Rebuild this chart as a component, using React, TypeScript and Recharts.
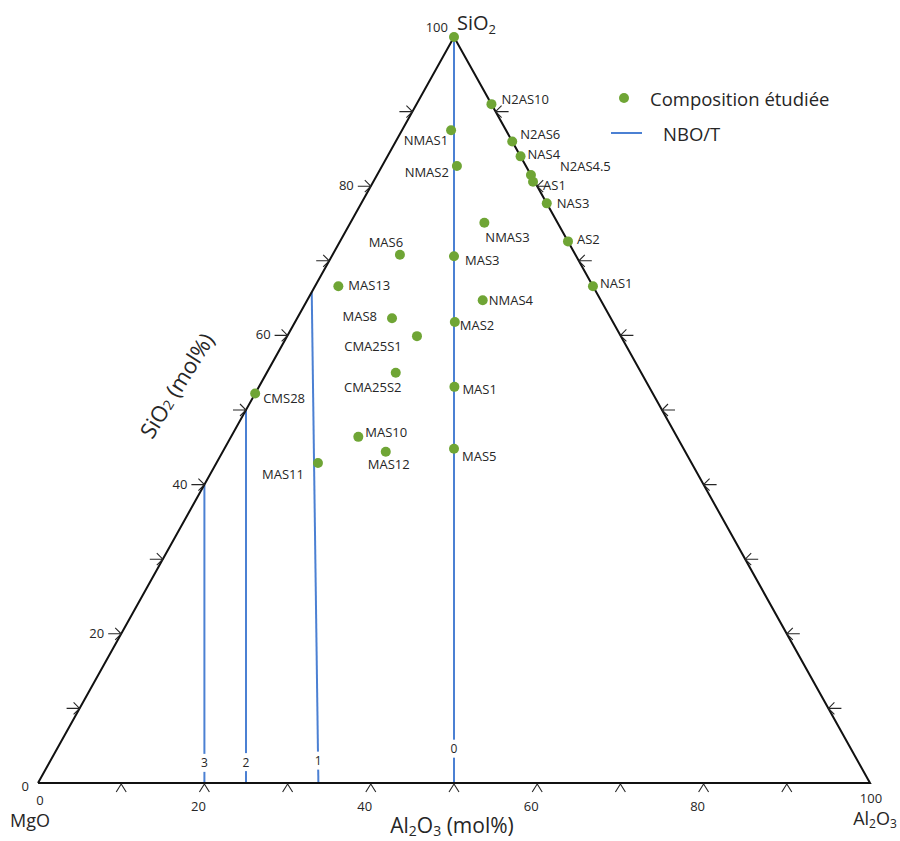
import React from "react";
import { ScatterChart, Scatter, XAxis, YAxis, Legend } from "recharts";

const GREEN = "#6fa535";
const BLUE = "#4b80d3";
const INK = "#262626";
const FONT = "'Open Sans', 'Noto Sans', sans-serif";

// compositions in mol% (MgO + other oxides = remainder)
const sampleNames = ["", "N2AS10", "NMAS1", "N2AS6", "NAS4", "NMAS2", "N2AS4.5", "AS1", "NAS3", "NMAS3", "AS2", "MAS6", "MAS3", "NAS1", "MAS13", "NMAS4", "MAS8", "MAS2", "CMA25S1", "CMA25S2", "MAS1", "CMS28", "MAS10", "MAS12", "MAS5", "MAS11"];
const sampleSiO2 = [100, 91, 87.5, 86, 84, 82.7, 81.5, 80.6, 77.7, 75.1, 72.6, 70.8, 70.6, 66.6, 66.6, 64.7, 62.3, 61.8, 59.9, 55.0, 53.1, 52.2, 46.4, 44.4, 44.8, 42.9];
const sampleAl2O3 = [0, 9, 5.9, 14, 16, 9.0, 18.5, 19.2, 22.3, 16.1, 27.4, 8.1, 14.7, 33.4, 2.8, 21.1, 11.4, 19.2, 15.6, 15.5, 23.5, 0, 15.3, 19.6, 27.6, 12.2];

// NBO/T iso-lines: from the MgO-Al2O3 side up to the MgO-SiO2 side
const nboNames = ["0", "1", "2", "3"];
const nboBottomAl2O3 = [50, 33.7, 25, 20];
const nboTopSiO2 = [100, 65.8, 50, 40];
const nboLabelSiO2 = [4.6, 3.0, 2.8, 2.7];

const edgeTicks = [10, 20, 30, 40, 50, 60, 70, 80, 90];
const sideTickLabels = [20, 40, 60, 80];
const bottomTickLabels = [20, 40, 60, 80];

// ternary -> cartesian (MgO left, Al2O3 right, SiO2 apex)
const toXY = (si: number, al: number) => ({ x: al + si / 2, y: si });

// label placement [dx, dy, anchor] in px
const labelPos: Record<string, [number, number, "start" | "middle" | "end"]> = {
  N2AS10: [10, -5, "start"],
  NMAS1: [-3, 10, "end"],
  N2AS6: [8, -7, "start"],
  NAS4: [7, -2, "start"],
  NMAS2: [-8, 6, "end"],
  "N2AS4.5": [29, -9, "start"],
  AS1: [10, 3, "start"],
  NAS3: [10, 0, "start"],
  NMAS3: [1, 14, "start"],
  AS2: [9, -2, "start"],
  MAS6: [-14, -13, "middle"],
  MAS3: [11, 4, "start"],
  NAS1: [7, -3, "start"],
  MAS13: [10, -1, "start"],
  NMAS4: [6, 0, "start"],
  MAS8: [-15, -2, "end"],
  MAS2: [5, 3, "start"],
  CMA25S1: [-44, 10, "middle"],
  CMA25S2: [-23, 14, "middle"],
  MAS1: [8, 2, "start"],
  CMS28: [8, 4, "start"],
  MAS10: [7, -5, "start"],
  MAS12: [3, 12, "middle"],
  MAS5: [8, 7, "start"],
  MAS11: [-14, 11, "end"],
};

const samples = sampleNames.map((name, i) => ({ name, ...toXY(sampleSiO2[i], sampleAl2O3[i]) }));
const triangle = [toXY(0, 0), toXY(100, 0), toXY(0, 100), toXY(0, 0)];
const nboLines = nboNames.map((n, i) => [toXY(0, nboBottomAl2O3[i]), toXY(nboTopSiO2[i], 0)]);
const nboLabels = nboNames.map((n, i) => {
  const t = nboLabelSiO2[i] / nboTopSiO2[i];
  return { name: n, x: nboBottomAl2O3[i] * (1 - t) + (nboTopSiO2[i] / 2) * t, y: nboLabelSiO2[i] };
});
const leftTicks = edgeTicks.map((v) => toXY(v, 0));
const rightTicks = edgeTicks.map((v) => toXY(v, 100 - v));
const bottomTicks = edgeTicks.map((v) => toXY(0, v));
const leftLabels = sideTickLabels.map((v) => ({ ...toXY(v, 0), name: String(v) }));
const bottomLabels = bottomTickLabels.map((v) => ({ ...toXY(0, v), name: String(v) }));
const corners = [
  { ...toXY(100, 0), id: "si" },
  { ...toXY(0, 0), id: "mg" },
  { ...toXY(0, 100), id: "al" },
];
const titles = [
  { ...toXY(0, 50), id: "bottom" },
  { ...toXY(50, 0), id: "side" },
];

const none = () => <g />;

const SampleDot = (props: any) => {
  const { cx, cy, payload } = props;
  const p = labelPos[payload.name];
  return (
    <g>
      <circle cx={cx} cy={cy} r={5} fill={GREEN} />
      {p && (
        <text x={cx + p[0]} y={cy + p[1]} textAnchor={p[2]} dominantBaseline="central" fontSize={13} fontFamily={FONT} fill={INK}>
          {payload.name}
        </text>
      )}
    </g>
  );
};

const LeftTick = ({ cx, cy }: any) => (
  <path d={`M${cx - 13},${cy}H${cx}M${cx - 6},${cy - 6}L${cx},${cy}L${cx - 6},${cy + 6}`} stroke={INK} strokeWidth={1.1} fill="none" />
);
const RightTick = ({ cx, cy }: any) => (
  <path d={`M${cx + 13},${cy}H${cx}M${cx + 6},${cy - 6}L${cx},${cy}L${cx + 6},${cy + 6}`} stroke={INK} strokeWidth={1.1} fill="none" />
);
const BottomTick = ({ cx, cy }: any) => (
  <path d={`M${cx - 5},${cy + 9}L${cx},${cy + 1}L${cx + 5},${cy + 9}`} stroke={INK} strokeWidth={1.1} fill="none" />
);

const LeftLabel = ({ cx, cy, payload }: any) => (
  <text x={cx - 17} y={cy - 1} textAnchor="end" dominantBaseline="central" fontSize={13} fontFamily={FONT} fill={INK}>
    {payload.name}
  </text>
);
const BottomLabel = ({ cx, cy, payload }: any) => (
  <text x={cx - 6} y={cy + 23} textAnchor="middle" dominantBaseline="central" fontSize={13} fontFamily={FONT} fill={INK}>
    {payload.name}
  </text>
);

const NboLabel = ({ cx, cy, payload }: any) => (
  <g>
    <rect x={cx - 6} y={cy - 9} width={12} height={18} fill="#fff" />
    <text x={cx} y={cy} textAnchor="middle" dominantBaseline="central" fontSize={12} fontFamily={FONT} fill={INK}>
      {payload.name}
    </text>
  </g>
);

const Corner = ({ cx, cy, payload }: any) => {
  const common = { fontFamily: FONT, fill: INK };
  if (payload.id === "si")
    return (
      <g>
        <text x={cx - 6} y={cy - 10} textAnchor="end" dominantBaseline="central" fontSize={13} {...common}>100</text>
        <text x={cx + 3} y={cy - 7} fontSize={20} {...common}>
          SiO<tspan fontSize={13} dy={4}>2</tspan>
        </text>
      </g>
    );
  if (payload.id === "mg")
    return (
      <g>
        <text x={cx - 9} y={cy + 3} textAnchor="end" dominantBaseline="central" fontSize={13} {...common}>0</text>
        <text x={cx + 2} y={cy + 17} textAnchor="middle" dominantBaseline="central" fontSize={13} {...common}>0</text>
        <text x={cx - 8} y={cy + 44} textAnchor="middle" fontSize={18} {...common}>MgO</text>
      </g>
    );
  return (
    <g>
      <text x={cx + 1} y={cy + 15} textAnchor="middle" dominantBaseline="central" fontSize={13} {...common}>100</text>
      <text x={cx + 5} y={cy + 42} textAnchor="middle" fontSize={18} {...common}>
        Al<tspan fontSize={12} dy={3}>2</tspan><tspan dy={-3}>O</tspan><tspan fontSize={12} dy={3}>3</tspan>
      </text>
    </g>
  );
};

const Title = ({ cx, cy, payload }: any) => {
  if (payload.id === "bottom")
    return (
      <text x={cx - 2} y={cy + 50} textAnchor="middle" fontSize={21} fontFamily={FONT} fill={INK}>
        Al<tspan fontSize={14} dy={3}>2</tspan><tspan dy={-3}>O</tspan><tspan fontSize={14} dy={3}>3</tspan><tspan dy={-3}> (mol%)</tspan>
      </text>
    );
  const tx = cx - 70;
  const ty = cy - 25;
  return (
    <text x={tx} y={ty} transform={`rotate(-58 ${tx} ${ty})`} textAnchor="middle" dominantBaseline="central" fontSize={22} fontFamily={FONT} fill={INK}>
      SiO<tspan fontSize={14} dy={3}>2</tspan><tspan dy={-3}> (mol%)</tspan>
    </text>
  );
};

const LegendBox = () => (
  <div style={{ fontFamily: FONT, fontSize: 18.5, color: INK }}>
    <div style={{ display: "flex", alignItems: "center", height: 30 }}>
      <svg width={45} height={20}>
        <circle cx={19} cy={10} r={5} fill={GREEN} />
      </svg>
      <span>Composition étudiée</span>
    </div>
    <div style={{ display: "flex", alignItems: "center", height: 40 }}>
      <svg width={58} height={20}>
        <line x1={6} x2={37} y1={10} y2={10} stroke={BLUE} strokeWidth={2} />
      </svg>
      <span>NBO/T</span>
    </div>
  </div>
);

export default function App() {
  return (
    <div style={{ position: "absolute", left: 0, top: 0, width: 900, height: 841, background: "#fff" }}>
      <ScatterChart width={900} height={841} margin={{ top: 37, right: 30, bottom: 58, left: 38 }}>
        <XAxis type="number" dataKey="x" domain={[0, 100]} hide />
        <YAxis type="number" dataKey="y" domain={[0, 100]} hide />
        <Legend
          content={<LegendBox />}
          layout="horizontal"
          align="center"
          verticalAlign="middle"
          wrapperStyle={{ left: 605, top: 83, width: 270 }}
        />
        {nboLines.map((pts, i) => (
          <Scatter key={`nbo${i}`} data={pts} line={{ stroke: BLUE, strokeWidth: 2 }} lineType="joint" shape={none} isAnimationActive={false} />
        ))}
        <Scatter data={nboLabels} shape={NboLabel} isAnimationActive={false} />
        <Scatter data={triangle} line={{ stroke: "#111", strokeWidth: 2 }} lineType="joint" shape={none} isAnimationActive={false} />
        <Scatter data={leftTicks} shape={LeftTick} isAnimationActive={false} />
        <Scatter data={rightTicks} shape={RightTick} isAnimationActive={false} />
        <Scatter data={bottomTicks} shape={BottomTick} isAnimationActive={false} />
        <Scatter data={leftLabels} shape={LeftLabel} isAnimationActive={false} />
        <Scatter data={bottomLabels} shape={BottomLabel} isAnimationActive={false} />
        <Scatter data={corners} shape={Corner} isAnimationActive={false} />
        <Scatter data={titles} shape={Title} isAnimationActive={false} />
        <Scatter data={samples} shape={SampleDot} isAnimationActive={false} />
      </ScatterChart>
    </div>
  );
}
